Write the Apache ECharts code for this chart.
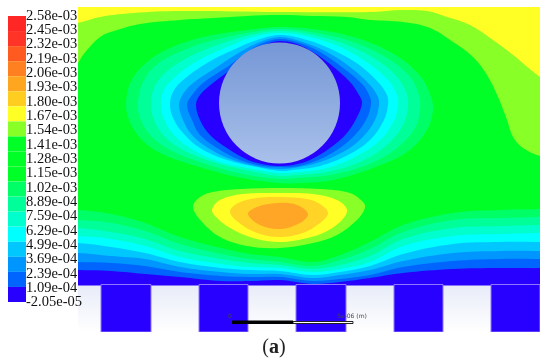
<!DOCTYPE html>
<html>
<head>
<meta charset="utf-8">
<style>html,body{margin:0;padding:0;background:#fff}#chart{width:550px;height:363px}</style>
<script src="https://cdn.jsdelivr.net/npm/echarts@6/dist/echarts.min.js"></script>
</head>
<body>
<div id="chart"></div>
<script>
// colour bar
var tickLabels = ['2.58e-03','2.45e-03','2.32e-03','2.19e-03','2.06e-03','1.93e-03','1.80e-03','1.67e-03','1.54e-03','1.41e-03','1.28e-03','1.15e-03','1.02e-03','8.89e-04','7.59e-04','6.29e-04','4.99e-04','3.69e-04','2.39e-04','1.09e-04','-2.05e-05'];
var barColors = ['#ff2626','#ff3326','#ff5a20','#ff8020','#ffa620','#ffcc20','#ffff26','#88ff26','#00ff26','#00ff26','#00ff26','#00ff66','#00ff99','#00ffcc','#00ffff','#00c8ff','#0096ff','#0064ff','#2800ff'];

// upper corners of the field
var edgeGreen = [[0,56],[5,48],[22,30],[39,23],[62,17],[102,13],[135,11],[169,9],[202,8],[235,9],[269,10],[292,13],[325,15],[352,21],[375,35],[395,50],[409,68],[420,90],[429,113],[435,130],[445,141],[462,149],[475,151],[490,-20],[-20,-20],[-15,70]];
var edgeYellow = [[0,16],[22,10],[55,6],[102,4],[202,5],[292,5],[325,3],[349,4],[369,10],[392,18],[415,33],[435,48],[462,70],[480,80],[490,-20],[-20,-20],[-15,18]];

// contours round the cylinder, outermost first
var ring1 = [[202,20],[242,23],[282,32],[319,49],[343,70],[353,90],[355,103],[349,123],[329,145],[295,161],[255,173],[222,176],[202,176],[159,170],[115,158],[82,146],[62,131],[51,113],[48,96],[53,74],[69,55],[92,41],[125,30],[169,23]];
var ring2 = [[202,22],[239,26],[275,35],[309,51],[332,70],[341,89],[342,102],[337,121],[319,141],[289,158],[252,168],[219,171],[202,172],[165,167],[125,156],[92,143],[72,128],[62,111],[60,95],[65,75],[77,59],[99,46],[129,35],[169,26]];
var ring3 = [[202,24],[235,28],[269,38],[299,53],[320,71],[329,88],[330,100],[325,118],[309,138],[282,155],[249,165],[219,168],[202,169],[172,164],[135,155],[105,143],[86,129],[76,113],[73,97],[76,81],[87,66],[109,51],[139,38],[172,28]];
var ring4 = [[202,26],[232,30],[262,40],[290,56],[310,73],[319,88],[320,98],[315,116],[300,135],[275,151],[245,162],[219,165],[202,166],[175,162],[142,155],[115,143],[96,128],[86,112],[83,97],[86,83],[97,70],[119,54],[149,40],[175,30]];
var ring5 = [[202,28],[229,33],[255,43],[280,57],[300,75],[309,88],[310,98],[306,113],[292,133],[270,148],[242,159],[215,163],[202,164],[179,160],[149,153],[122,141],[105,126],[95,111],[92,97],[95,85],[105,73],[129,56],[155,43],[179,33]];
var ring6 = [[202,30],[225,35],[249,45],[272,60],[292,78],[300,90],[301,98],[297,113],[284,131],[265,145],[239,156],[215,161],[202,162],[182,160],[155,153],[130,141],[114,128],[105,113],[101,98],[105,87],[115,76],[139,60],[162,45],[182,35]];
var ring7 = [[202,32],[222,36],[242,45],[265,61],[285,78],[292,90],[293,97],[289,111],[277,128],[259,143],[235,155],[215,160],[202,160],[185,159],[162,153],[139,141],[122,128],[114,113],[109,98],[114,88],[125,76],[149,60],[169,45],[185,36]];
var ring8 = [[202,34],[219,37],[235,45],[252,57],[272,75],[281,88],[284,95],[281,106],[269,126],[252,141],[232,153],[215,158],[202,159],[189,158],[170,153],[149,141],[132,128],[122,113],[118,98],[122,88],[135,76],[159,58],[174,46],[189,37]];

// contours of the hot spot under the cylinder
var blob1 = [[115,200],[122,190],[135,185],[162,182],[202,181],[242,182],[272,186],[285,195],[287,201],[279,213],[259,228],[235,236],[202,241],[169,239],[142,230],[124,215]];
var blob2 = [[134,203],[142,193],[165,187],[202,186],[235,187],[259,193],[269,203],[262,215],[245,226],[225,232],[202,235],[175,231],[152,221],[139,211]];
var blob3 = [[152,205],[160,196],[179,191],[202,190],[229,192],[242,197],[250,206],[242,216],[225,226],[202,230],[182,227],[164,218]];
var blob4 = [[170,207],[179,200],[199,196],[219,198],[230,207],[222,216],[202,222],[182,218]];

// contours along the ridged wall, depth at each bandX
var bandX = [0,33,67,102,143,172,202,235,262,292,325,375,422,462];
var band1 = [203,207,216,230,241,247,250,255,248,235,218,206,203,202];
var band2 = [213,216,224,237,247,252,255,259,253,242,225,213,211,210];
var band3 = [221,225,232,244,252,256,258,262,258,249,232,221,219,218];
var band4 = [229,232,239,250,257,260,261,265,262,255,239,229,227,226];
var band5 = [236,240,246,255,261,263,264,268,265,259,247,237,235,235];
var band6 = [246,249,252,260,265,267,267,271,268,263,254,246,244,244];
var band7 = [255,256,259,265,269,270,270,274,272,268,260,254,252,252];
var band8 = [263,264,267,270,274,274,273,277,275,271,266,262,261,261];

// ridges and gaps of the wall
var toothStart = [23,121,218,316,413];
var toothEnd = [73,170,268,365,462];
var gapStart = [0,73,170,268,365];
var gapEnd = [23,121,218,316,413];
var wallTop = 278.5;
var wallBottom = 325;

var cylinder = [201.5,96,60.5];
var scaleStops = [154,215,275];

var ringColors = ['#00ff66','#00ff99','#00ffcc','#00ffff','#00c8ff','#0096ff','#0064ff','#2800ff'];
var blobColors = ['#88ff26','#ffff26','#ffd426','#ffa626'];

function polySeries(points, color) {
  return {
    type: 'custom', coordinateSystem: 'cartesian2d', xAxisIndex: 0, yAxisIndex: 0,
    clip: true, silent: true, data: [[0, 0]],
    renderItem: function (params, api) {
      var pts = [];
      for (var i = 0; i < points.length; i++) pts.push(api.coord(points[i]));
      return {type: 'polygon', shape: {points: pts, smooth: 0.36}, style: {fill: color}};
    }
  };
}

function rectSeries(starts, ends, top, bottom, style) {
  return {
    type: 'custom', coordinateSystem: 'cartesian2d', xAxisIndex: 0, yAxisIndex: 0,
    clip: true, silent: true, data: starts.map(function (s, i) { return [s, ends[i]]; }),
    renderItem: function (params, api) {
      var a = api.coord([api.value(0), top]);
      var b = api.coord([api.value(1), bottom]);
      return {type: 'rect', shape: {x: a[0], y: a[1], width: b[0] - a[0], height: b[1] - a[1]}, style: style};
    }
  };
}

function bandPoints(depths) {
  var pts = [[-30, depths[0]]];
  for (var i = 0; i < bandX.length; i++) pts.push([bandX[i], depths[i]]);
  pts.push([490, depths[depths.length - 1]], [490, 320], [-30, 320]);
  return pts;
}

var series = [];
series.push(rectSeries([0], [462], 0, wallTop, {fill: '#00ff26'}));
series.push(polySeries(edgeGreen, '#88ff26'));
series.push(polySeries(edgeYellow, '#ffff26'));
[ring1, ring2, ring3, ring4, ring5, ring6, ring7, ring8].forEach(function (r, i) {
  series.push(polySeries(r, ringColors[i]));
});
[band1, band2, band3, band4, band5, band6, band7, band8].forEach(function (b, i) {
  series.push(polySeries(bandPoints(b), ringColors[i]));
});
[blob1, blob2, blob3, blob4].forEach(function (b, i) {
  series.push(polySeries(b, blobColors[i]));
});
// white gaps and blue ridges
series.push(rectSeries(gapStart, gapEnd, wallTop, wallBottom, {
  fill: new echarts.graphic.LinearGradient(0, 0, 0, 1, [{offset: 0, color: '#e8ecf8'}, {offset: 1, color: '#ffffff'}])
}));
series.push(rectSeries(toothStart, toothEnd, wallTop - 1, wallBottom, {fill: '#2800ff', stroke: '#8f78ff', lineWidth: 1}));
// cylinder
series.push({
  type: 'custom', coordinateSystem: 'cartesian2d', xAxisIndex: 0, yAxisIndex: 0,
  silent: true, data: [cylinder],
  renderItem: function (params, api) {
    var c = api.coord([api.value(0), api.value(1)]);
    var r = api.size([api.value(2), 0])[0];
    return {type: 'circle', shape: {cx: c[0], cy: c[1], r: r}, style: {
      fill: new echarts.graphic.LinearGradient(0, 0, 0, 1, [{offset: 0, color: '#7597d6'}, {offset: 1, color: '#a9c0ea'}])
    }};
  }
});
// scale bar
series.push(rectSeries([scaleStops[1]], [scaleStops[2]], 314.5, 316.5, {fill: '#ffffff', stroke: '#222', lineWidth: 1}));
series.push(rectSeries([scaleStops[0]], [scaleStops[1]], 313.5, 317, {fill: '#000'}));
// colour bar cells
series.push({
  type: 'custom', coordinateSystem: 'cartesian2d', xAxisIndex: 1, yAxisIndex: 1,
  silent: true, data: barColors.map(function (c, i) { return [i]; }),
  renderItem: function (params, api) {
    var i = api.value(0);
    var a = api.coord([0, i]);
    var b = api.coord([1, i + 1]);
    return {type: 'rect', shape: {x: a[0], y: a[1], width: b[0] - a[0], height: b[1] - a[1]}, style: {fill: barColors[i]}};
  }
});

var chart = echarts.init(document.getElementById('chart'), null, {renderer: 'canvas'});
chart.setOption({
  animation: false,
  backgroundColor: '#ffffff',
  grid: [
    {left: 78, top: 7, width: 462, height: 325},
    {left: 8, top: 16, width: 18, height: 286},
    // tick labels get one spare step either end so the first and last are kept
    {left: 8, top: 1.7, width: 18, height: 315}
  ],
  xAxis: [
    {type: 'value', min: 0, max: 462, show: false, gridIndex: 0},
    {type: 'value', min: 0, max: 1, show: false, gridIndex: 1},
    {type: 'value', min: 0, max: 1, show: false, gridIndex: 2}
  ],
  yAxis: [
    {type: 'value', min: 0, max: 325, inverse: true, show: false, gridIndex: 0},
    {type: 'value', min: 0, max: 19, inverse: true, show: false, gridIndex: 1},
    {
      type: 'value', min: -1, max: 21, interval: 1, inverse: true, gridIndex: 2, position: 'right',
      axisLine: {show: false}, axisTick: {show: false}, splitLine: {show: false},
      axisLabel: {
        margin: 0, color: '#111', fontFamily: 'Liberation Serif', fontSize: 14.5,
        hideOverlap: false,
        formatter: function (v) { return tickLabels[v] || ''; }
      },
      z: 50
    }
  ],
  graphic: [
    {type: 'text', x: 230, y: 316, z: 100, silent: true, style: {text: '0', fill: '#444', font: '6px "DejaVu Sans"', align: 'center', verticalAlign: 'middle'}},
    {type: 'text', x: 352, y: 316, z: 100, silent: true, style: {text: '5e-06 (m)', fill: '#444', font: '6px "DejaVu Sans"', align: 'center', verticalAlign: 'middle'}},
    {type: 'text', x: 274, y: 348, z: 100, silent: true, style: {
      text: '({a|a})', fill: '#222', font: '20px "Liberation Serif"', align: 'center', verticalAlign: 'middle',
      rich: {a: {font: 'bold 20px "Liberation Serif"', fill: '#222'}}
    }}
  ],
  series: series
});
</script>
</body>
</html>
